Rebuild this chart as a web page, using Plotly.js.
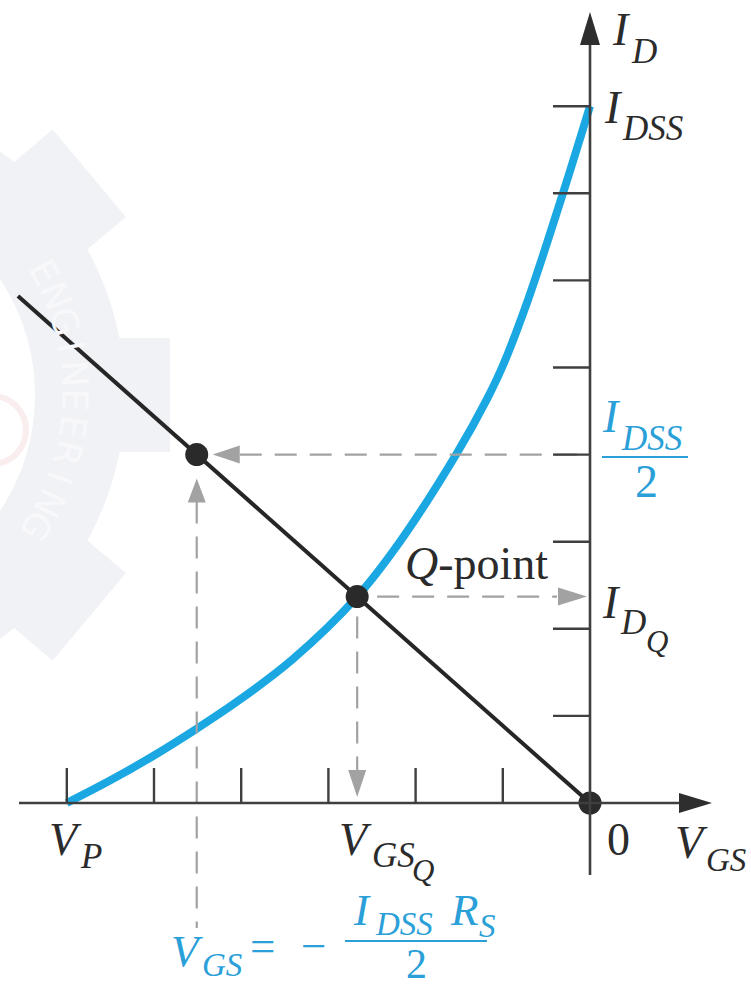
<!DOCTYPE html>
<html>
<head>
<meta charset="utf-8">
<script src="https://cdn.plot.ly/plotly-3.0.1.min.js"></script>
<style>
  html, body { margin: 0; padding: 0; background: #ffffff; }
  #chart { width: 751px; height: 989px; }
</style>
</head>
<body>
<div id="chart"></div>
<script>
// JFET transfer characteristic with the self-bias load line.
// Units: V_GS in divisions (V_P = -6), I_D in divisions (I_DSS = 8).

// Transfer curve, read as points (V_GS, I_D)
const vgsCurve = [-6.00, -5.50, -5.01, -4.53, -4.01, -3.41, -2.67, -2.18, -1.53, -1.18, -1.00, -0.71, -0.31, 0.00];
const idCurve  = [ 0.00,  0.26,  0.54,  0.84,  1.19,  1.65,  2.37,  3.00,  4.01,  4.64,  5.02,  5.78,  7.00, 8.00];

// Self-bias load line (through the origin)
const vgsLoad = [-6.56, 0.00];
const idLoad  = [ 5.82, 0.00];

// Marked points: I_DSS/2 on the load line, the Q-point, the origin
const halfPoint = [-4.51, 4.00];
const qPoint    = [-2.67, 2.37];
const origin    = [0, 0];

// Tick positions along each axis
const vgsTicks = [-6, -5, -4, -3, -2, -1];
const idTicks  = [1, 2, 3, 4, 5, 6, 7, 8];

// Watermark lettering
const markLetters = ['E', 'N', 'G', 'I', 'N', 'E', 'E', 'R', 'I', 'N', 'G'];

// ---- page geometry ----
const W = 751, H = 989;
const X0PX = 590, Y0PX = 803;      // pixel position of the origin
const SX = 87.2, SY = 87.1;        // pixels per division
const xRange = [(0 - X0PX) / SX, (W - X0PX) / SX];
const yRange = [(Y0PX - H) / SY, (Y0PX - 0) / SY];
const ux = 1 / SX, uy = 1 / SY;    // data units per pixel

const BLUE = '#1ba8e2';
const BLUE_TXT = '#2a9fd8';
const INK = '#2b2b2b';
const AXIS = '#3f3f3f';
const GUIDE = '#a2a2a2';
const SERIF = 'Liberation Serif, Times New Roman, serif';

// ---- traces ----
const traces = [
  { x: vgsCurve, y: idCurve, mode: 'lines', type: 'scatter',
    line: { color: BLUE, width: 8, shape: 'spline', smoothing: 1 }, hoverinfo: 'skip' },
  { x: vgsLoad, y: idLoad, mode: 'lines', type: 'scatter',
    line: { color: '#262626', width: 4 }, hoverinfo: 'skip' },
  { x: [halfPoint[0], qPoint[0], origin[0]], y: [halfPoint[1], qPoint[1], origin[1]],
    mode: 'markers', type: 'scatter',
    marker: { color: '#2a2a2a', size: 23, line: { width: 0 } }, hoverinfo: 'skip' }
];

// ---- shapes: axes, ticks, guides, arrowheads ----
const shapes = [];
const xAxisEnd = (712 - X0PX) / SX;     // arrow tip of V_GS axis
const yAxisEnd = (Y0PX - 12) / SY;      // arrow tip of I_D axis
const xAxisStart = (19 - X0PX) / SX;
const yAxisStart = (Y0PX - 875) / SY;

function seg(x0, y0, x1, y1, color, width, dash) {
  shapes.push({ type: 'line', xref: 'x', yref: 'y', x0, y0, x1, y1,
    line: { color, width, dash: dash || 'solid' }, layer: 'above' });
}
function head(ax, ay, path, color) {
  shapes.push({ type: 'path', xref: 'x', yref: 'y', xsizemode: 'pixel', ysizemode: 'pixel',
    xanchor: ax, yanchor: ay, path, fillcolor: color, line: { width: 0 }, layer: 'above' });
}

// dashed guides (drawn first so the axes sit on top)
const DASH = '22px,13px';
seg(halfPoint[0] + 43 * ux, halfPoint[1], 0, halfPoint[1], GUIDE, 2.2, DASH);
seg(halfPoint[0], halfPoint[1] - 47 * uy, halfPoint[0], (Y0PX - 928) / SY, GUIDE, 2.2, DASH);
seg(qPoint[0] + 20 * ux, qPoint[1], -33 * ux, qPoint[1], GUIDE, 2.2, DASH);
seg(qPoint[0], qPoint[1] - 20 * uy, qPoint[0], 33 * uy, GUIDE, 2.2, DASH);

// guide arrowheads
head(halfPoint[0], halfPoint[1], 'M16,0 L43,9 L43,-9 Z', GUIDE);
head(halfPoint[0], halfPoint[1], 'M0,-24 L-9,-48 L9,-48 Z', GUIDE);
head(0, qPoint[1], 'M-3,0 L-32,9 L-32,-9 Z', GUIDE);
head(qPoint[0], 0, 'M0,6 L-9,33 L9,33 Z', GUIDE);

// axes
seg(xAxisStart, 0, xAxisEnd - 30 * ux, 0, AXIS, 2.6);
seg(0, yAxisStart, 0, yAxisEnd - 30 * uy, AXIS, 2.6);
head(xAxisEnd, 0, 'M0,0 L-33,10 L-33,-10 Z', '#2e2e2e');
head(0, yAxisEnd, 'M0,0 L-10,-33 L10,-33 Z', '#2e2e2e');

// ticks
vgsTicks.forEach(v => seg(v, 0, v, 35 * uy, AXIS, 2.4));
idTicks.forEach(v => seg(-37 * ux, v, 0, v, AXIS, 2.4));

// fraction bars (paper coords, pixel based)
function bar(x0px, x1px, ypx, color) {
  shapes.push({ type: 'line', xref: 'paper', yref: 'paper',
    x0: x0px / W, x1: x1px / W, y0: 1 - ypx / H, y1: 1 - ypx / H,
    line: { color, width: 2.2 }, layer: 'above' });
}
bar(602, 688, 457, BLUE_TXT);
bar(345, 487, 941, BLUE_TXT);

// ---- text ----
const annotations = [];
// place text by its left edge and baseline (pixels)
function txt(s, xPx, basePx, size, color, italic) {
  annotations.push({
    xref: 'paper', yref: 'paper', x: xPx / W, y: 1 - (basePx - 0.3375 * size) / H,
    xanchor: 'left', yanchor: 'middle', showarrow: false, borderpad: 0,
    text: italic ? '<i>' + s + '</i>' : s,
    font: { family: SERIF, size, color }
  });
}
const M = 46, S = 35, SS = 31;

// vertical axis labels
txt('I', 611, 45, M, INK, true);  txt('D', 630, 63, S, INK, true);
txt('I', 603, 123, M, INK, true); txt('DSS', 621, 140, S, INK, true);
txt('I', 601, 432, M, BLUE_TXT, true); txt('DSS', 620, 450, S, BLUE_TXT, true);
txt('2', 634, 497, M, BLUE_TXT, false);
txt('I', 601, 618, M, INK, true); txt('D', 619, 634, S, INK, true); txt('Q', 645, 652, SS, INK, true);
txt('<i>Q</i>-point', 404, 579, M, INK, false);

// horizontal axis labels
txt('V', 48, 855, M, INK, true);  txt('P', 79, 868, S, INK, true);
txt('V', 338, 855, M, INK, true); txt('GS', 371, 867, S, INK, true); txt('Q', 411, 881, SS, INK, true);
txt('0', 606, 855, M, INK, false);
txt('V', 674, 858, M, INK, true); txt('GS', 705, 871, 33, INK, true);

// bias equation
const F = 45, FS = 33;
txt('V', 170, 966, F, BLUE_TXT, true); txt('GS', 201, 976, FS, BLUE_TXT, true);
txt('=', 249, 961, F, BLUE_TXT, false);
txt('\u2212', 300, 961, F, BLUE_TXT, false);
txt('I', 352, 925, F, BLUE_TXT, true); txt('DSS', 374, 935, FS, BLUE_TXT, true);
txt('R', 449, 925, F, BLUE_TXT, true); txt('S', 478, 937, FS, BLUE_TXT, true);
txt('2', 405, 978, 42, BLUE_TXT, false);

// watermark lettering along the gear ring
const GC = [-175, 392], GR = 250;
markLetters.forEach((ch, i) => {
  const deg = -28.6 + 6.1 * i;
  const a = deg * Math.PI / 180;
  const px = GC[0] + GR * Math.cos(a), py = GC[1] + GR * Math.sin(a);
  annotations.push({
    xref: 'paper', yref: 'paper', x: px / W, y: 1 - py / H,
    xanchor: 'center', yanchor: 'middle', showarrow: false, borderpad: 0,
    text: ch, textangle: deg + 90,
    font: { family: 'DejaVu Sans', size: 36, color: '#f8f8fb' }
  });
});

// faint gear behind the chart
function gearSvg() {
  const cx = GC[0], cy = 395, rIn = 210, rOut = 300;
  let teeth = '';
  [-80, -40, 0, 40, 80].forEach(a => {
    teeth += `<rect x="${rOut - 10}" y="-57" width="55" height="114" transform="translate(${cx},${cy}) rotate(${a})"/>`;
  });
  const ring = `<path fill-rule="evenodd" d="M${cx + rOut},${cy} A${rOut},${rOut} 0 1,0 ${cx - rOut},${cy} A${rOut},${rOut} 0 1,0 ${cx + rOut},${cy} Z M${cx + rIn},${cy} A${rIn},${rIn} 0 1,0 ${cx - rIn},${cy} A${rIn},${rIn} 0 1,0 ${cx + rIn},${cy} Z"/>`;
  const logo = `<circle cx="-8" cy="430" r="34" fill="none" stroke="#faeded" stroke-width="6"/>`;
  const svg = `<svg xmlns="http://www.w3.org/2000/svg" width="${W}" height="${H}" viewBox="0 0 ${W} ${H}"><g fill="#f1f2f6">${ring}${teeth}</g>${logo}</svg>`;
  return 'data:image/svg+xml;charset=utf-8,' + encodeURIComponent(svg);
}

const layout = {
  width: W, height: H,
  margin: { l: 0, r: 0, t: 0, b: 0, pad: 0 },
  paper_bgcolor: '#ffffff',
  plot_bgcolor: 'rgba(0,0,0,0)',
  showlegend: false,
  xaxis: { range: xRange, visible: false, fixedrange: true },
  yaxis: { range: yRange, visible: false, fixedrange: true },
  shapes, annotations,
  images: [{ source: gearSvg(), xref: 'paper', yref: 'paper', x: 0, y: 1,
    sizex: 1, sizey: 1, xanchor: 'left', yanchor: 'top', sizing: 'stretch', layer: 'below' }]
};

Plotly.newPlot('chart', traces, layout, { staticPlot: true, displayModeBar: false });
</script>
</body>
</html>
